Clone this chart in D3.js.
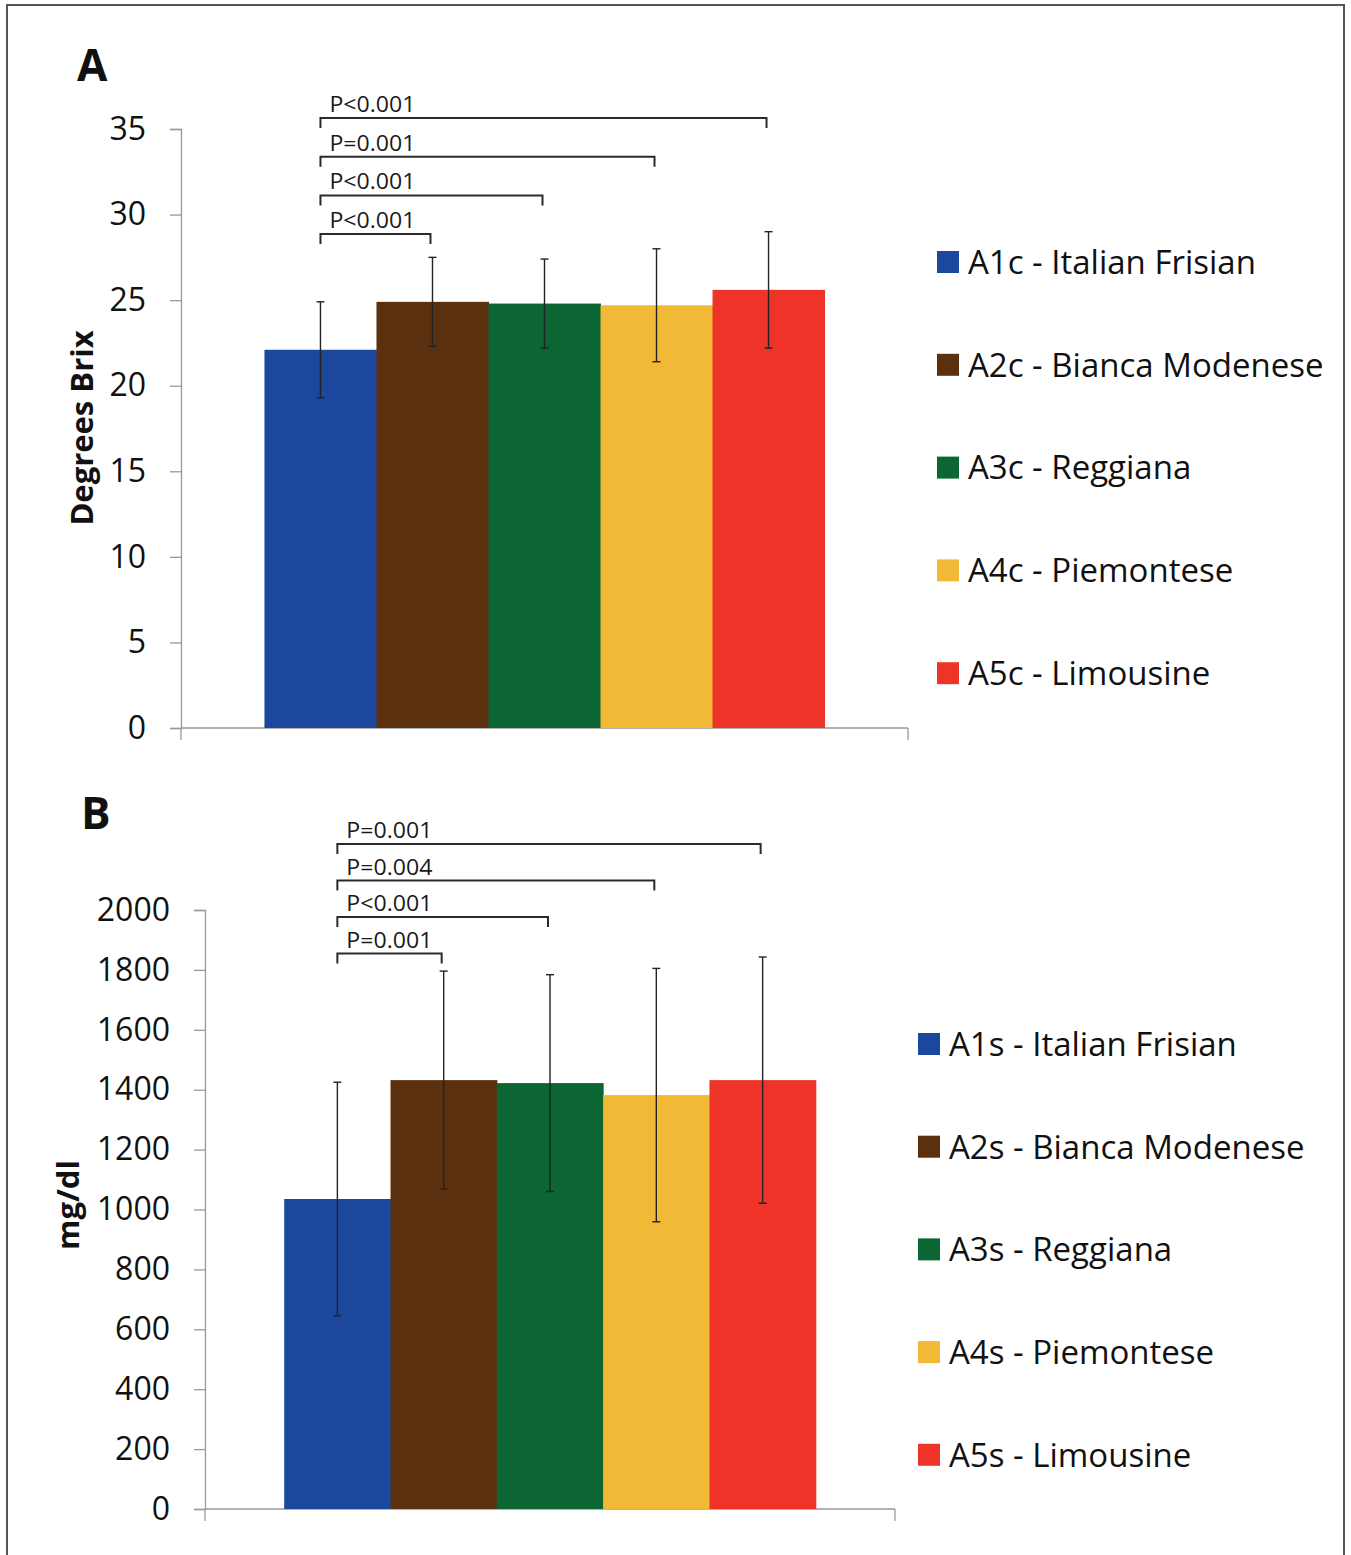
<!DOCTYPE html>
<html>
<head>
<meta charset="utf-8">
<script src="https://cdn.jsdelivr.net/npm/d3@7"></script>
<style>
  body { margin: 0; background: #fff; }
  svg { display: block; font-family: "Open Sans", sans-serif; }
</style>
</head>
<body>
<div id="chart"></div>
<script>
// breeds, shared by both panels
const breeds = ["Italian Frisian", "Bianca Modenese", "Reggiana", "Piemontese", "Limousine"];
const codesA = ["A1c", "A2c", "A3c", "A4c", "A5c"];
const codesB = ["A1s", "A2s", "A3s", "A4s", "A5s"];
const barColors = ["#1b479c", "#5b300f", "#0b6633", "#f1b935", "#ee3329"];

// panel A - degrees Brix (mean, sd)
const brixMean = [22.1, 24.9, 24.8, 24.7, 25.6];
const brixErr = [2.8, 2.6, 2.6, 3.3, 3.4];
const brixTicks = [0, 5, 10, 15, 20, 25, 30, 35];
const brixPairs = [[0, 4, "P<0.001"], [0, 3, "P=0.001"], [0, 2, "P<0.001"], [0, 1, "P<0.001"]];

// panel B - mg/dl (mean, sd)
const mgMean = [1035, 1432, 1422, 1382, 1432];
const mgErr = [390, 364, 362, 423, 411];
const mgTicks = [0, 200, 400, 600, 800, 1000, 1200, 1400, 1600, 1800, 2000];
const mgPairs = [[0, 4, "P=0.001"], [0, 3, "P=0.004"], [0, 2, "P<0.001"], [0, 1, "P=0.001"]];

const W = 1351, H = 1555;
const svg = d3.select("#chart").append("svg")
    .attr("width", W)
    .attr("height", H);

// outer frame
svg.append("rect")
    .attr("x", 7).attr("y", 5)
    .attr("width", 1337).attr("height", 1570)
    .attr("fill", "none")
    .attr("stroke", "#555")
    .attr("stroke-width", 2);

function drawPanel(cfg) {
    const x = d3.scaleBand()
        .domain(d3.range(cfg.mean.length))
        .range([cfg.x0, cfg.x1])
        .paddingInner(0)
        .paddingOuter(0.745);
    const y = d3.scaleLinear()
        .domain([0, cfg.max])
        .range([cfg.yBottom, cfg.yTop]);

    const g = svg.append("g");

    // panel letter
    g.append("text")
        .attr("x", cfg.letterX).attr("y", cfg.letterY)
        .attr("font-size", 44)
        .attr("font-weight", "bold")
        .attr("fill", "#111")
        .text(cfg.letter);

    // y axis
    const yAxis = g.append("g")
        .attr("transform", `translate(${cfg.x0},0)`)
        .call(d3.axisLeft(y).tickValues(cfg.ticks).tickSize(11).tickPadding(24).tickFormat(d3.format("d")));
    yAxis.select(".domain").attr("stroke", "#999").attr("stroke-width", 1.3);
    yAxis.selectAll(".tick line").attr("stroke", "#999").attr("stroke-width", 1.3);
    yAxis.selectAll(".tick text")
        .attr("font-size", 32)
        .attr("font-family", "'Open Sans', sans-serif")
        .attr("fill", "#111");

    // x axis baseline with end ticks
    g.append("line")
        .attr("x1", cfg.x0).attr("x2", cfg.x1)
        .attr("y1", y(0)).attr("y2", y(0))
        .attr("stroke", "#999").attr("stroke-width", 1.3);
    g.selectAll(".xend")
        .data([cfg.x0, cfg.x1])
        .enter().append("line")
        .attr("x1", d => d).attr("x2", d => d)
        .attr("y1", y(0)).attr("y2", y(0) + 12)
        .attr("stroke", "#999").attr("stroke-width", 1.3);

    // y axis title
    g.append("text")
        .attr("transform", `translate(${cfg.titleX},${cfg.titleY}) rotate(-90)`)
        .attr("text-anchor", "middle")
        .attr("font-size", 31)
        .attr("font-weight", "bold")
        .attr("fill", "#111")
        .text(cfg.title);

    // bars
    g.selectAll(".bar")
        .data(cfg.mean)
        .enter().append("rect")
        .attr("x", (d, i) => x(i))
        .attr("y", d => y(d))
        .attr("width", x.bandwidth() + 0.5)
        .attr("height", d => y(0) - y(d))
        .attr("fill", (d, i) => barColors[i]);

    // error bars
    const eb = g.selectAll(".err")
        .data(cfg.mean.map((m, i) => ({i: i, lo: m - cfg.err[i], hi: m + cfg.err[i]})))
        .enter().append("g")
        .attr("stroke", "#222")
        .attr("stroke-width", 1.4);
    eb.append("line")
        .attr("x1", d => x(d.i) + x.bandwidth() / 2)
        .attr("x2", d => x(d.i) + x.bandwidth() / 2)
        .attr("y1", d => y(d.lo)).attr("y2", d => y(d.hi));
    eb.selectAll(".cap")
        .data(d => [d.lo, d.hi].map(v => ({i: d.i, v: v})))
        .enter().append("line")
        .attr("x1", d => x(d.i) + x.bandwidth() / 2 - 4)
        .attr("x2", d => x(d.i) + x.bandwidth() / 2 + 4)
        .attr("y1", d => y(d.v)).attr("y2", d => y(d.v));

    // significance brackets, outermost first
    const br = g.selectAll(".bracket")
        .data(cfg.pairs)
        .enter().append("g");
    br.append("path")
        .attr("d", (d, k) => {
            const yy = cfg.bracketTop + k * cfg.bracketStep;
            const xa = x(d[0]) + x.bandwidth() / 2;
            const xb = x(d[1]) + x.bandwidth() / 2 - 2;
            return `M${xa},${yy + cfg.bracketDrop}V${yy}H${xb}V${yy + cfg.bracketDrop}`;
        })
        .attr("fill", "none")
        .attr("stroke", "#2a2a2a")
        .attr("stroke-width", 2);
    br.append("text")
        .attr("x", d => x(d[0]) + x.bandwidth() / 2 + 9)
        .attr("y", (d, k) => cfg.bracketTop + k * cfg.bracketStep - 6)
        .attr("font-size", 21)
        .attr("textLength", 86)
        .attr("lengthAdjust", "spacingAndGlyphs")
        .attr("fill", "#1a1a1a")
        .text(d => d[2]);

    // legend
    const lg = g.selectAll(".legend")
        .data(cfg.codes)
        .enter().append("g")
        .attr("transform", (d, i) => `translate(${cfg.legX},${cfg.legY + i * cfg.legStep})`);
    lg.append("rect")
        .attr("x", 0).attr("y", -11)
        .attr("width", 22).attr("height", 22)
        .attr("fill", (d, i) => barColors[i]);
    lg.append("text")
        .attr("x", 31).attr("y", 0)
        .attr("dy", "0.36em")
        .attr("font-size", 33)
        .attr("fill", "#111")
        .text((d, i) => `${d} - ${breeds[i]}`);
}

drawPanel({
    letter: "A", letterX: 77, letterY: 81,
    mean: brixMean, err: brixErr, max: 35, ticks: brixTicks,
    x0: 181, x1: 908, yBottom: 728, yTop: 129,
    title: "Degrees Brix", titleX: 93, titleY: 428,
    pairs: brixPairs, bracketTop: 118, bracketStep: 38.7, bracketDrop: 10,
    codes: codesA, legX: 937, legY: 262, legStep: 102.8
});

drawPanel({
    letter: "B", letterX: 81, letterY: 829,
    mean: mgMean, err: mgErr, max: 2000, ticks: mgTicks,
    x0: 205, x1: 895, yBottom: 1509, yTop: 910,
    title: "mg/dl", titleX: 79, titleY: 1205,
    pairs: mgPairs, bracketTop: 844, bracketStep: 36.5, bracketDrop: 10,
    codes: codesB, legX: 918, legY: 1044, legStep: 102.7
});
</script>
</body>
</html>
